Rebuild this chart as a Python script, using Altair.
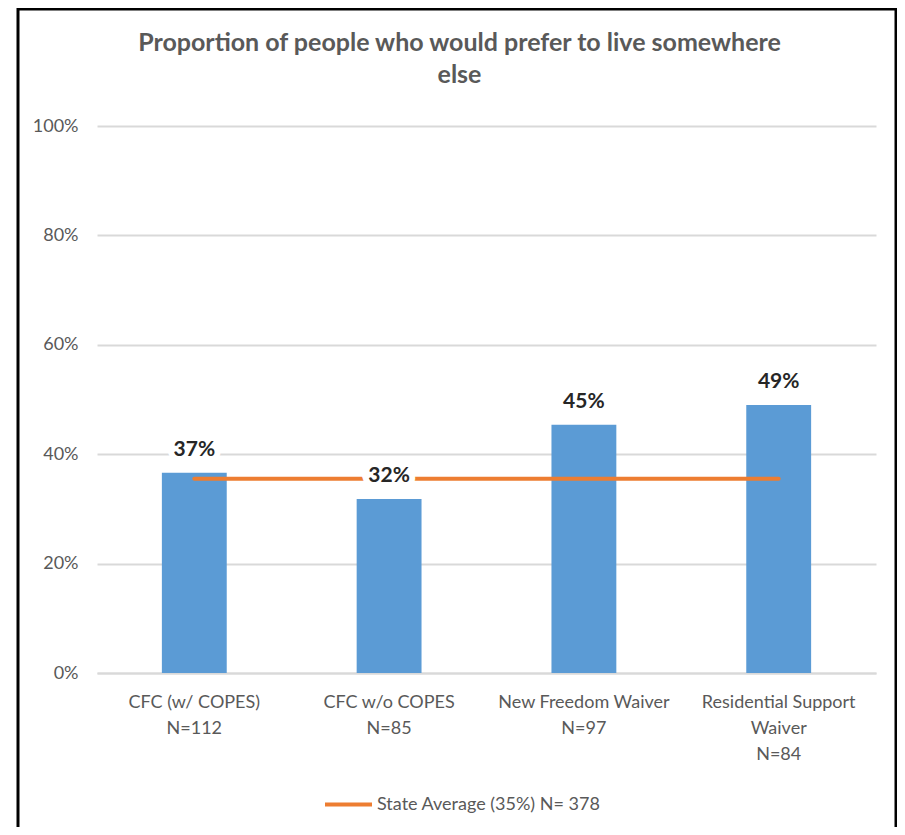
import altair as alt
import pandas as pd

# ---- data ----
categories = ["CFC (w/ COPES)", "CFC w/o COPES", "New Freedom Waiver", "Residential Support Waiver"]
axis_labels = ["CFC (w/ COPES)|N=112", "CFC w/o COPES|N=85", "New Freedom Waiver|N=97",
               "Residential Support|Waiver|N=84"]
proportions = [0.366, 0.318, 0.454, 0.490]
state_average = [0.355, 0.355, 0.355, 0.355]
series_name = "State Average (35%) N= 378"
title_lines = ["Proportion of people who would prefer to live somewhere", "else"]
y_ticks = [0, 0.2, 0.4, 0.6, 0.8, 1.0]

df = pd.DataFrame({
    "category": categories,
    "label": axis_labels,
    "value": proportions,
    "avg": state_average,
    "series": [series_name] * len(categories),
})

FONT = "Lato"
GREY = "#595959"

x_enc = alt.X(
    "label:N",
    sort=axis_labels,
    scale=alt.Scale(paddingInner=0.667, paddingOuter=0.333),
    axis=alt.Axis(
        title=None,
        labelExpr="split(datum.label, '|')",
        labelAngle=0,
        labelFont=FONT,
        labelFontSize=18,
        labelColor=GREY,
        labelLineHeight=26,
        labelPadding=20,
        domainColor="#D9D9D9",
        domainWidth=2,
        ticks=False,
        grid=False,
    ),
)

y_enc = alt.Y(
    "value:Q",
    scale=alt.Scale(domain=[0, 1]),
    axis=alt.Axis(
        title=None,
        values=y_ticks,
        format=".0%",
        domain=False,
        ticks=False,
        gridColor="#D9D9D9",
        gridWidth=2,
        labelFont=FONT,
        labelFontSize=18,
        labelColor=GREY,
        labelPadding=19,
    ),
)

base = alt.Chart(df)

bars = base.mark_bar(color="#5B9BD5").encode(x=x_enc, y=y_enc)

avg_line = base.mark_line(strokeWidth=4, strokeCap="round").encode(
    x=x_enc,
    y=alt.Y("avg:Q"),
    color=alt.Color(
        "series:N",
        scale=alt.Scale(range=["#ED7D31"]),
        legend=alt.Legend(
            title=None,
            orient="none",
            legendX=226,
            legendY=653,
            symbolType="stroke",
            symbolSize=2209,
            symbolStrokeWidth=4,
            labelFont=FONT,
            labelFontSize=18,
            labelColor=GREY,
            labelOffset=3,
            labelLimit=500,
            padding=0,
        ),
    ),
)

label_halo = base.mark_text(
    font=FONT, fontSize=21, fontWeight="bold", baseline="alphabetic", dy=-17,
    fill="white", stroke="white", strokeWidth=12,
).encode(x=x_enc, y=y_enc, text=alt.Text("value:Q", format=".0%"))

labels = base.mark_text(
    font=FONT, fontSize=21, fontWeight="bold", baseline="alphabetic", dy=-17,
    color="#262626",
).encode(x=x_enc, y=y_enc, text=alt.Text("value:Q", format=".0%"))

frame = alt.Chart(pd.DataFrame({"f": [0]})).mark_rect(
    fill="transparent", stroke="black", strokeWidth=3
).encode(
    x=alt.value(-79), x2=alt.value(799), y=alt.value(-117), y2=alt.value(720)
)

chart = alt.layer(bars, avg_line, label_halo, labels, frame).properties(
    width=779,
    height=547,
    autosize=alt.AutoSizeParams(type="none"),
    padding={"left": 89, "top": 118, "right": 21, "bottom": 154},
    title=alt.TitleParams(
        text=title_lines,
        font=FONT,
        fontSize=25,
        fontWeight="bold",
        color=GREY,
        anchor="middle",
        frame="group",
        dx=-27,
        offset=-80,
        lineHeight=32,
    ),
).configure_view(stroke=None)

chart.save("out.html", embed_options={"renderer": "svg", "actions": False})
